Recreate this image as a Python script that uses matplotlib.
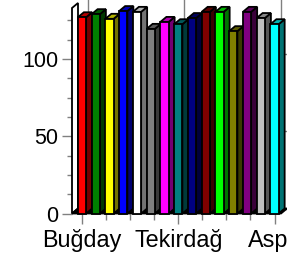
import matplotlib
matplotlib.use("Agg")
import matplotlib.pyplot as plt
from matplotlib.patches import Polygon
from matplotlib.colors import to_rgb
from matplotlib.ticker import MultipleLocator, FixedLocator

plt.rcParams['font.family'] = ['Liberation Sans', 'DejaVu Sans']

# data
labels = ["Buğday", "Tekirdağ", "Aspir"]
label_pos = [0, 7, 14]
values = [127, 129, 126, 131, 130.5, 119.5, 124, 122.5,
          126.5, 130.5, 130.5, 118, 130.5, 126.5, 122.5]
colors = ["#FF0000", "#008000", "#FFFF00", "#0000FF", "#FFFFFF",
          "#808080", "#FF00FF", "#008080", "#000080", "#800000",
          "#00FF00", "#808000", "#800080", "#C0C0C0", "#00FFFF"]

W, H = 287, 257
fig = plt.figure(figsize=(W / 100, H / 100), dpi=100)
ax = fig.add_axes([72 / W, 43.5 / H, (281 - 72) / W, (213.5 - 8) / H])
x0, x1 = -0.727, 14.47
y0, y1 = 0, 133
ax.set_xlim(x0, x1)
ax.set_ylim(y0, y1)

# 3d depth, in data units
ux = (x1 - x0) / (281 - 72)
uy = (y1 - y0) / (213.5 - 8)
dx, dy = 6 * ux, 5 * uy
lw = 1.3
grid = "#808080"


def shade(c, f):
    r, g, b = to_rgb(c)
    return (r * f, g * f, b * f)


# back wall with gridlines
ax.add_patch(Polygon([(x0 + dx, dy), (x1 + dx, dy), (x1 + dx, y1 + dy), (x0 + dx, y1 + dy)],
                     closed=True, facecolor="white", edgecolor="none", zorder=0, clip_on=False))
for p in label_pos:
    ax.plot([p + dx, p + dx], [dy, y1 + dy + 10], color=grid, lw=1, zorder=1, clip_on=False)
for v in [0, 50, 100]:
    ax.plot([x0 + dx, x1 + dx], [v + dy, v + dy], color=grid, lw=1, zorder=1, clip_on=False)

# left wall and floor
ax.add_patch(Polygon([(x0, 0), (x0 + dx, dy), (x0 + dx, y1 + dy), (x0, y1)], closed=True,
                     facecolor="white", edgecolor="black", lw=lw, zorder=2, clip_on=False))
ax.add_patch(Polygon([(x0, 0), (x1, 0), (x1 + dx, dy), (x0 + dx, dy)], closed=True,
                     facecolor="black", edgecolor="black", lw=lw, zorder=2, clip_on=False))

# bars; black fill between neighbours stands for the shadowed sides
hw = 0.3
for i, (v, c) in enumerate(zip(values, colors)):
    l, r = i - hw, i + hw
    nxt = i + 1 - hw
    if i + 1 < len(values):
        ax.add_patch(Polygon([(r, 0), (nxt, 0), (nxt, min(v, values[i + 1])),
                              (r, min(v, values[i + 1]))], closed=True,
                             facecolor="black", edgecolor="none", zorder=2.5, clip_on=False))
    side = [(r, 0), (r + dx, dy), (r + dx, v + dy), (r, v)]
    top = [(l, v), (r, v), (r + dx, v + dy), (l + dx, v + dy)]
    front = [(l, 0), (r, 0), (r, v), (l, v)]
    ax.add_patch(Polygon(side, closed=True, facecolor=shade(c, 0.45), edgecolor="black",
                         lw=lw, zorder=3, clip_on=False))
    ax.add_patch(Polygon(top, closed=True, facecolor=shade(c, 0.7), edgecolor="black",
                         lw=lw, zorder=3, clip_on=False))
    ax.add_patch(Polygon(front, closed=True, facecolor=c, edgecolor="black",
                         lw=lw, zorder=4, clip_on=False))

for s in ax.spines.values():
    s.set_visible(False)

ax.yaxis.set_major_locator(FixedLocator([0, 50, 100]))
ax.yaxis.set_minor_locator(MultipleLocator(12.5))
ax.xaxis.set_major_locator(FixedLocator(label_pos))
ax.xaxis.set_minor_locator(MultipleLocator(1.75))
ax.set_xticklabels(labels)
ax.tick_params(axis="y", which="major", length=7.5, width=1, color=grid, pad=2.5, labelsize=15.5)
ax.tick_params(axis="y", which="minor", length=3.6, width=1, color=grid)
ax.tick_params(axis="x", which="major", length=7.5, width=1, color=grid, pad=3.5, labelsize=16.8)
ax.tick_params(axis="x", which="minor", length=4.5, width=1, color=grid)

fig.savefig("out.png", dpi=100)
